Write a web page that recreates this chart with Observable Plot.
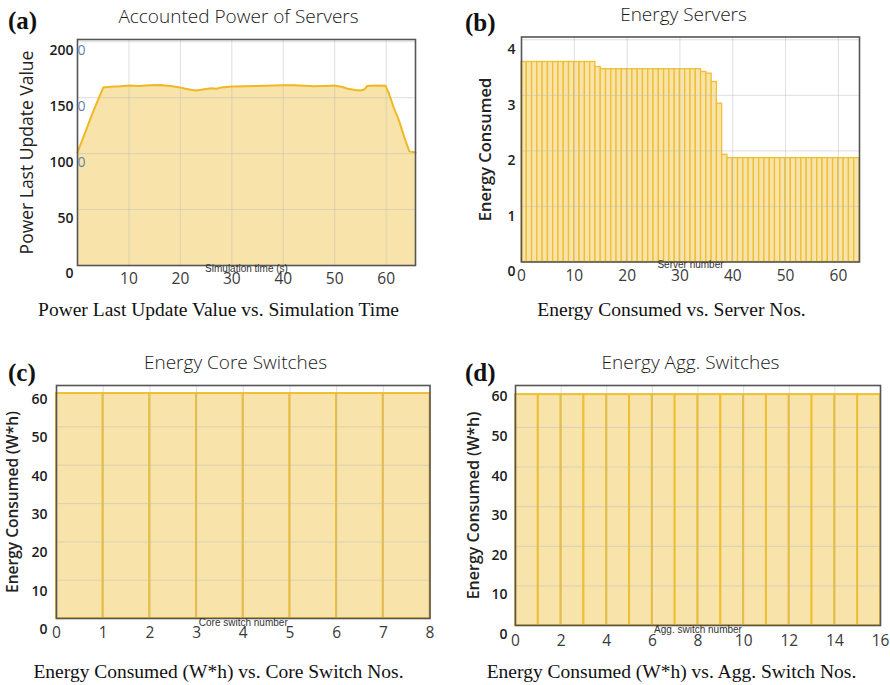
<!DOCTYPE html>
<html><head><meta charset="utf-8">
<script src="https://cdn.jsdelivr.net/npm/d3@7"></script>
<script src="https://cdn.jsdelivr.net/npm/@observablehq/plot@0.6"></script>
<style>
body{margin:0;background:#fff;}
#fig{position:relative;width:890px;height:685px;overflow:hidden;background:#fff;}
.panel{position:absolute;width:445px;height:342px;}
.panel svg{position:absolute;left:0;top:0;}
.tag{position:absolute;font-family:"Liberation Serif",serif;font-weight:bold;font-size:25px;line-height:1;color:#111;}
.title{position:absolute;width:445px;text-align:center;font-family:"Open Sans",sans-serif;font-weight:300;font-size:19px;line-height:1;color:#1a1a1a;}
.cap{position:absolute;width:445px;text-align:center;font-family:"Liberation Serif",serif;font-size:19.5px;line-height:1;color:#111;}
</style>
</head><body><div id="fig"></div>
<script>
// ---------- data ----------
const powerTime  = [0, 1, 2, 3, 4, 5, 6, 7, 8, 10, 12, 14, 16, 18, 19, 20, 21, 22, 23, 24, 25, 26, 27, 28, 30, 33, 35, 38, 40, 42, 44, 46, 48, 50, 51.5, 52.5, 54, 55, 55.8, 56.3, 58, 59.9, 60.5, 61.5, 62.5, 63.5, 64.5, 65.7];
const powerValue = [101, 113, 125, 137, 148, 159, 159.5, 160, 160, 160.8, 160.5, 161, 161.4, 160.5, 159.8, 159, 158, 157, 156.4, 157, 157.8, 158.5, 158, 159.2, 160, 160.2, 160.5, 160.8, 161, 161, 160.6, 160.2, 160.5, 160.8, 159.5, 158, 156.8, 156.4, 157.5, 160.5, 160.8, 160.6, 154, 141, 129.5, 115, 102, 101];
const serverEnergy = [
  3.60, 3.60, 3.60, 3.60, 3.60, 3.60, 3.60, 3.60, 3.60, 3.60, 3.60, 3.60, 3.60, 3.60,
  3.51,
  3.47, 3.47, 3.47, 3.47, 3.47, 3.47, 3.47, 3.47, 3.47, 3.47, 3.47, 3.47, 3.47, 3.47, 3.47, 3.47, 3.47, 3.47, 3.47,
  3.42, 3.39, 3.24, 2.85, 1.93,
  1.87, 1.87, 1.87, 1.87, 1.87, 1.87, 1.87, 1.87, 1.87, 1.87, 1.87, 1.87, 1.87,
  1.87, 1.87, 1.87, 1.87, 1.87, 1.87, 1.87, 1.87, 1.87, 1.87, 1.87, 1.87
];
const coreSwitchEnergy = [58.7, 58.7, 58.7, 58.7, 58.7, 58.7, 58.7, 58.7];
const aggSwitchEnergy = [58.3, 58.3, 58.3, 58.3, 58.3, 58.3, 58.3, 58.3, 58.3, 58.3, 58.3, 58.3, 58.3, 58.3, 58.3, 58.3];

const timeTicks = [10, 20, 30, 40, 50, 60];
const powerTicks = [0, 50, 100, 150, 200];
const clippedZeroTicks = [100, 150, 200];
const serverTicks = [0, 10, 20, 30, 40, 50, 60];
const serverEnergyTicks = [0, 1, 2, 3, 4];
const coreTicks = [0, 1, 2, 3, 4, 5, 6, 7, 8];
const aggTicks = [0, 2, 4, 6, 8, 10, 12, 14, 16];
const switchEnergyTicks = [0, 10, 20, 30, 40, 50, 60];

const tags = ["(a)", "(b)", "(c)", "(d)"];
const titles = ["Accounted Power of Servers", "Energy Servers", "Energy Core Switches", "Energy Agg. Switches"];
const captions = ["Power Last Update Value vs. Simulation Time", "Energy Consumed vs. Server Nos.",
  "Energy Consumed (W*h) vs. Core Switch Nos.", "Energy Consumed (W*h) vs. Agg. Switch Nos."];
const yTitles = ["Power Last Update Value", "Energy Consumed", "Energy Consumed (W*h)", "Energy Consumed (W*h)"];
const xTitles = ["Simulation time (s)", "Server number", "Core switch number", "Agg. switch number"];

// ---------- style ----------
const FILL = "#f8e4aa", GOLD = "#efbf33", LINE = "#f0b726";
const GRID = "#b8b8b8";
const fig = document.getElementById("fig");
const fmt = d => String(d);

function gridMarks(o) {
  return [
    Plot.gridX(o.xTicks, {stroke: GRID, strokeOpacity: 0.45}),
    Plot.gridY(o.yGrid, {stroke: GRID, strokeOpacity: 0.45})
  ];
}
function axisMarks(i, o) {
  return [
    Plot.frame({stroke: "#555", strokeWidth: 1.6}),
    Plot.axisY(o.yTicks, {tickSize: 0, tickPadding: o.yPad, dy: o.yDy, fontSize: 14, fontWeight: 600, fill: "#1c1c1c", label: null, tickFormat: fmt}),
    Plot.axisX(o.xTicksLab, {tickSize: 0, tickPadding: o.xPad, fontSize: 15.5, fill: "#3a3a3a", label: null, tickFormat: fmt}),
    Plot.text([xTitles[i]], {frameAnchor: "bottom", dy: o.xtDy, fontSize: 10, fontFamily: "Liberation Sans", fill: "#333"}),
    Plot.text([yTitles[i]], {frameAnchor: "left", textAnchor: "middle", rotate: -90, dx: o.ytX - o.ml, fontSize: o.ytSize, fontWeight: o.ytWeight, fill: "#222"})
  ];
}

function addPanel(left, top, svg) {
  const p = document.createElement("div");
  p.className = "panel";
  p.style.left = left + "px"; p.style.top = top + "px";
  p.appendChild(svg);
  fig.appendChild(p);
}
function addText(cls, txt, left, top) {
  const d = document.createElement("div");
  d.className = cls; d.textContent = txt;
  d.style.left = left + "px"; d.style.top = top + "px";
  fig.appendChild(d);
}

const base = {width: 445, height: 342, style: {fontFamily: "Open Sans", background: "transparent", overflow: "visible"}};

// (a)
{
  const o = {ml: 77, xTicks: timeTicks, yGrid: [50, 100, 150, 200], yTicks: powerTicks, yPad: 4, yDy: 8.5,
    xTicksLab: timeTicks, xPad: 7, xtDy: 6, ytX: 27, ytSize: 17.5, ytWeight: 400};
  const data = powerTime.map((t, k) => ({t, v: powerValue[k]}));
  const svg = Plot.plot({...base, marginLeft: 77, marginRight: 30, marginTop: 39, marginBottom: 77,
    x: {domain: [0, 65.7]}, y: {domain: [0, 202]},
    marks: [
      Plot.areaY(data, {x: "t", y: "v", fill: FILL}),
      ...gridMarks(o),
      Plot.lineY(data, {x: "t", y: "v", stroke: LINE, strokeWidth: 2}),
      ...axisMarks(0, o),
      Plot.text(clippedZeroTicks, {x: 0, y: d => d, text: () => "0", dx: 4, dy: 8.5, fontSize: 14, fill: "#5f84ad"})
    ]});
  addPanel(0, 0, svg);
}
// (b)
{
  const o = {ml: 76, xTicks: serverTicks.slice(1), yGrid: [1, 2, 3, 4], yTicks: serverEnergyTicks, yPad: 6, yDy: 10,
    xTicksLab: serverTicks, xPad: 8, xtDy: 6, ytX: 40, ytSize: 16.5, ytWeight: 600};
  const data = serverEnergy.map((v, k) => ({k, v}));
  const svg = Plot.plot({...base, marginLeft: 76, marginRight: 31, marginTop: 36.5, marginBottom: 80.5,
    x: {domain: [0, 64]}, y: {domain: [0, 4.05]},
    marks: [
      Plot.rectY(data, {x1: "k", x2: d => d.k + 1, y: "v", fill: FILL, stroke: GOLD, strokeWidth: 1.3}),
      ...gridMarks(o),
      ...axisMarks(1, o)
    ]});
  addPanel(445, 0, svg);
}
// (c)
{
  const o = {ml: 56, xTicks: coreTicks, yGrid: [10, 20, 30, 40, 50], yTicks: switchEnergyTicks, yPad: 9, yDy: 11,
    xTicksLab: coreTicks, xPad: 8, xtDy: 7, ytX: 13, ytSize: 15.5, ytWeight: 600};
  const data = coreSwitchEnergy.map((v, k) => ({k, v}));
  const svg = Plot.plot({...base, marginLeft: 56, marginRight: 15.5, marginTop: 45, marginBottom: 64,
    x: {domain: [0, 8]}, y: {domain: [0, 60.8]},
    marks: [
      Plot.rectY(data, {x1: "k", x2: d => d.k + 1, y: "v", fill: FILL, stroke: GOLD, strokeWidth: 2}),
      ...gridMarks(o),
      ...axisMarks(2, o)
    ]});
  addPanel(0, 340, svg);
}
// (d)
{
  const o = {ml: 70, xTicks: aggTicks, yGrid: [10, 20, 30, 40, 50], yTicks: switchEnergyTicks, yPad: 8, yDy: 9,
    xTicksLab: aggTicks, xPad: 9.5, xtDy: 7, ytX: 28, ytSize: 16, ytWeight: 600};
  const data = aggSwitchEnergy.map((v, k) => ({k, v}));
  const svg = Plot.plot({...base, marginLeft: 70, marginRight: 10, marginTop: 45, marginBottom: 57,
    x: {domain: [0, 16]}, y: {domain: [0, 60.6]},
    marks: [
      Plot.rectY(data, {x1: "k", x2: d => d.k + 1, y: "v", fill: FILL, stroke: GOLD, strokeWidth: 2}),
      ...gridMarks(o),
      ...axisMarks(3, o)
    ]});
  addPanel(445, 340, svg);
}

// tags, titles, captions
addText("tag", tags[0], 8, 8);
addText("tag", tags[1], 465, 10);
addText("tag", tags[2], 8, 360);
addText("tag", tags[3], 465, 360);
addText("title", titles[0], 16, 7);
addText("title", titles[1], 445 + 16, 5);
addText("title", titles[2], 13, 353);
addText("title", titles[3], 445 + 23, 353);
addText("cap", captions[0], -4, 300);
addText("cap", captions[1], 445 + 4, 300);
addText("cap", captions[2], -4, 662);
addText("cap", captions[3], 445 + 4, 662);
</script></body></html>
